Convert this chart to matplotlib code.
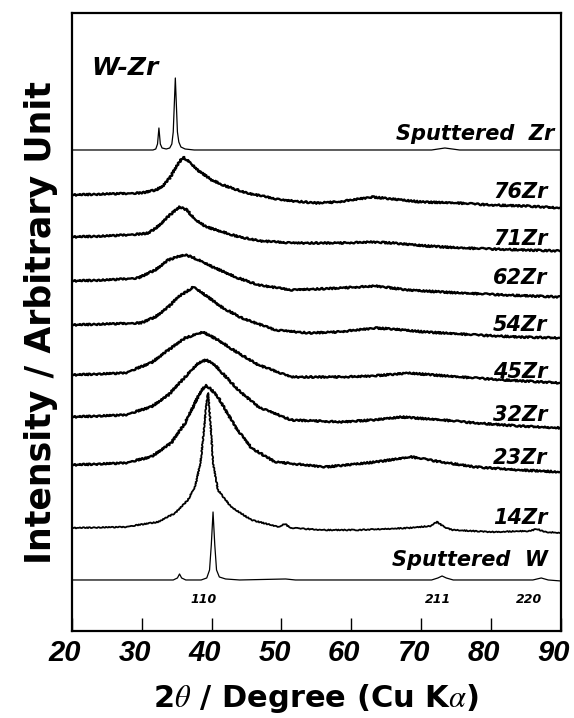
import numpy as np
import matplotlib
matplotlib.use('Agg')
import matplotlib.pyplot as plt
import matplotlib.transforms as mtrans

plt.rcParams['font.family'] = 'Liberation Sans'
plt.rcParams['mathtext.fontset'] = 'stix'

# Datos (2theta en grados, intensidad apilada en u. arb.)
th_zr = [20, 31.6, 32.0, 32.25, 32.45, 32.65, 32.9, 33.5, 34.0, 34.3, 34.5, 34.65,
         34.8, 34.95, 35.1, 35.3, 35.6, 36.2, 37.5, 71.5, 73.4, 75.5, 90]
i_zr = [481, 481, 482, 487, 503, 487, 483, 482, 483, 487, 499, 526,
        553, 526, 499, 489, 484, 482, 481, 481, 483, 481, 481]

th_76 = [20, 25, 30, 32, 33, 34, 35, 35.9, 36.8, 38, 40, 42, 45, 50, 55, 58, 60,
         63, 66, 70, 75, 80, 85, 90]
i_76 = [436, 437, 438, 441, 445, 453, 465, 474, 469, 461, 451, 445, 438, 431, 428,
        429, 431, 434, 432, 429, 428, 426, 425, 423]

th_71 = [20, 25, 30, 31, 32, 33, 34, 35.4, 36.5, 37.5, 39.3, 41.6, 44, 47, 51.6,
         58.8, 63, 66, 70.9, 75.6, 80, 85, 90]
i_71 = [394, 395, 397, 398, 403, 409, 416, 424, 421, 412, 404, 399, 394, 390, 388,
        388, 389, 388, 385, 383, 382, 381, 380]

th_62 = [20, 25, 29.5, 31.9, 33.8, 35.0, 36.2, 37.2, 38.1, 40.5, 43.4, 46.7, 51.4,
         58.6, 63.5, 68.2, 75.4, 82, 90]
i_62 = [350, 351, 353, 361, 371, 374, 376, 374, 371, 363, 354, 346, 341,
        343, 345, 341, 338, 336, 334]

th_54 = [20, 25, 29.9, 31.9, 33.8, 35.2, 37.4, 39.1, 41.4, 44.3, 49.1, 53.9, 58,
         63.5, 66, 70.6, 77.8, 84, 90]
i_54 = [306, 307, 308, 314, 324, 334, 344, 336, 324, 313, 301, 298, 299,
        303, 302, 299, 296, 294, 293]

th_45 = [20, 24, 27.6, 31.3, 33.8, 36.2, 38.8, 40.9, 43.8, 46.7, 51.4, 58.6, 63,
         68.2, 75.4, 82, 90]
i_45 = [256, 257, 258, 268, 281, 293, 299, 291, 278, 266, 254, 254, 255,
        258, 254, 251, 248]

th_32 = [20, 24, 27.6, 31.3, 33.8, 36.2, 38.1, 39.2, 40.3, 41.4, 43.8, 46.7, 51.4,
         58.6, 63, 67.2, 72.9, 77.8, 84, 90]
i_32 = [214, 215, 216, 224, 236, 254, 268, 271, 267, 259, 241, 224, 211,
        209, 211, 214, 211, 208, 205, 203]

th_23 = [20, 24, 27.6, 31.3, 34.2, 36.2, 37.6, 38.4, 39.2, 40.0, 40.9, 43.4, 45.7,
         49.1, 56.3, 63.5, 68.6, 72.9, 77.8, 84, 90]
i_23 = [166, 167, 168, 174, 188, 208, 228, 239, 246, 241, 234, 204, 183,
        169, 164, 169, 174, 169, 164, 161, 159]

th_14 = [20, 27.6, 32.3, 34.8, 36.6, 37.6, 38.4, 38.9, 39.3, 39.5, 39.9, 40.2, 40.9,
         42.8, 45.7, 49.6, 50.5, 51.3, 56, 61, 68.2, 71.3, 72.3, 73.3, 74.5, 80.1,
         85.5, 86.6, 87.8, 90]
i_14 = [103, 104, 109, 118, 131, 144, 168, 201, 231, 238, 201, 168, 141,
        124, 111, 104, 107, 103, 101, 101, 103, 105, 109, 104, 101, 99,
        100, 102, 99, 98]

th_w = [20, 34.5, 35.1, 35.4, 35.7, 36.3, 38.5, 39.3, 39.7, 39.95, 40.2, 40.45, 40.7,
        41.1, 42, 44, 50.6, 52, 71.5, 72.4, 73.0, 73.6, 74.6, 86, 87.2, 88.2, 90]
i_w = [51, 51, 53, 57, 53, 51, 51, 53, 61, 86, 119, 86, 61,
       54, 52, 51, 52, 51, 51, 53, 55, 53, 51, 51, 53, 51, 50]

# nombres, posicion (borde derecho, linea base) de cada etiqueta
names = ['Sputtered  Zr', '76Zr', '71Zr', '62Zr', '54Zr', '45Zr', '32Zr', '23Zr',
         '14Zr', 'Sputtered  W']
label_x = [89.0, 88.1, 88.1, 88.1, 88.1, 88.1, 88.1, 88.1, 88.1, 88.2]
label_y = [491, 433, 386, 347, 300, 253, 210, 167, 107, 65]

hkl = ['110', '211', '220']
hkl_th = [38.8, 72.4, 85.5]

curves = [(th_zr, i_zr), (th_76, i_76), (th_71, i_71), (th_62, i_62), (th_54, i_54),
          (th_45, i_45), (th_32, i_32), (th_23, i_23), (th_14, i_14), (th_w, i_w)]

DJ = ['DejaVu Sans']

fig = plt.figure(figsize=(5.74, 7.18), dpi=100)
ax = fig.add_axes([0.1254, 0.1212, 0.8516, 0.8607])

for k, (th, inten) in enumerate(curves):
    if k in (0, 9):
        ln, = ax.plot(th, inten, color='black', lw=0.9)
    elif k == 8:
        ln, = ax.plot(th, inten, color='black', lw=1.3)
        ln.set_sketch_params(0.5, 1.5, 1.5)
    else:
        # aspecto ruidoso del difractograma
        ln, = ax.plot(th, inten, color='black', lw=1.7)
        ln.set_sketch_params(0.8, 1.5, 1.5)

for name, xx, yy in zip(names, label_x, label_y):
    ax.text(xx, yy, name, fontsize=15, fontweight='bold', style='italic',
            family=DJ, ha='right', va='baseline')

for h, t in zip(hkl, hkl_th):
    ax.text(t, 31, h, fontsize=9, fontweight='bold', style='italic', family=DJ,
            ha='center', va='center')

ax.text(22.7, 556, 'W-Zr', fontsize=18, fontweight='bold', style='italic',
        family=DJ, ha='left', va='baseline')

ax.set_xlim(20, 90)
ax.set_ylim(0, 618)
ax.set_yticks([])
ax.set_xticks(range(20, 91, 10))
ax.tick_params(axis='x', direction='in', length=9.5, width=1.0, pad=6,
               labelsize=21)
shift = mtrans.ScaledTranslation(-7 / 100, 0, fig.dpi_scale_trans)
for t in ax.get_xticklabels():
    t.set_fontweight('bold')
    t.set_style('italic')
    t.set_transform(t.get_transform() + shift)
for s in ax.spines.values():
    s.set_linewidth(1.6)

fig.text(316 / 574, 1 - 707 / 718, r'2$\theta$ / Degree (Cu K$\alpha$)',
         fontsize=22, fontweight='bold', family=DJ, ha='center', va='baseline')
fig.text(41 / 574, 0.551, 'Intensity / Arbitrary Unit', fontsize=25,
         fontweight='bold', family=DJ, rotation=90, ha='center', va='center')

fig.savefig('out.png', dpi=100)
